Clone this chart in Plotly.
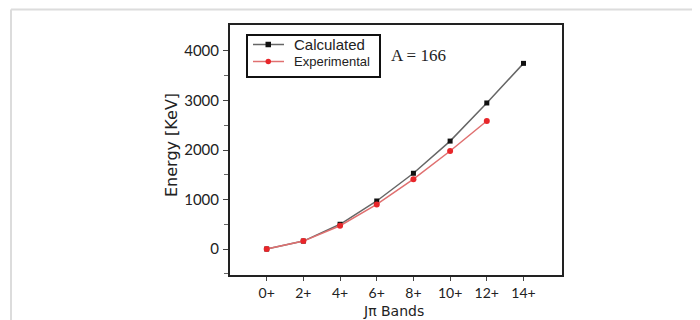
import plotly.graph_objects as go

bands = ["0+", "2+", "4+", "6+", "8+", "10+", "12+", "14+"]
calculated = [0, 160, 500, 970, 1530, 2180, 2950, 3750]
experimental = [0, 160, 470, 900, 1410, 1980, 2585]
series_names = ["Calculated", "Experimental"]
x_title = "Jπ Bands"
y_title = "Energy [KeV]"

x_calc = list(range(len(calculated)))
x_exp = list(range(len(experimental)))

CALC_LINE, CALC_MARK = "#666666", "#111111"
EXP_LINE, EXP_MARK = "#e07070", "#e8262a"

fig = go.Figure()
fig.add_trace(go.Scatter(
    x=x_calc, y=calculated, mode="lines+markers", name=series_names[0],
    line=dict(color=CALC_LINE, width=1.5),
    marker=dict(symbol="square", size=5, color=CALC_MARK),
    showlegend=False,
))
fig.add_trace(go.Scatter(
    x=x_exp, y=experimental, mode="lines+markers", name=series_names[1],
    line=dict(color=EXP_LINE, width=1.5),
    marker=dict(symbol="circle", size=6, color=EXP_MARK),
    showlegend=False,
))

# page offset (default body margin) and plot area in screen pixels
OFF = 8
W, H = 700 - OFF, 320 - OFF
L, R, T, B = 230, 562, 25, 275
def px(x):
    return (x - L) / (R - L)
def py(y):
    return (B - y) / (B - T)

font = "Lato, 'Liberation Sans', sans-serif"
title_font = "'DejaVu Sans', sans-serif"

shapes = [
    dict(type="line", xref="paper", yref="paper", x0=px(11), x1=px(702), y0=py(9.5), y1=py(9.5),
         line=dict(color="#dcdcdc", width=2)),
    dict(type="line", xref="paper", yref="paper", x0=px(11), x1=px(11), y0=py(9.5), y1=py(322),
         line=dict(color="#dcdcdc", width=2)),
    # custom legend box
    dict(type="rect", xref="paper", yref="paper", x0=px(247), x1=px(380), y0=py(77), y1=py(35),
         line=dict(color="#111", width=2), fillcolor="white"),
]
annotations = []
rows = [(44.5, CALC_LINE, CALC_MARK, "square", series_names[0], 15),
        (61.5, EXP_LINE, EXP_MARK, "circle", series_names[1], 13)]
for yy, lc, mc, sym, name, fs in rows:
    shapes.append(dict(type="line", xref="paper", yref="paper", x0=px(253), x1=px(284),
                       y0=py(yy), y1=py(yy), line=dict(color=lc, width=1.5)))
    shapes.append(dict(type=("rect" if sym == "square" else "circle"), xref="paper", yref="paper",
                       x0=px(265.5), x1=px(271), y0=py(yy + 2.75), y1=py(yy - 2.75),
                       line=dict(color=mc, width=0), fillcolor=mc))
    annotations.append(dict(text=name, xref="paper", yref="paper", x=px(292), y=py(yy),
                            xanchor="left", yanchor="middle", showarrow=False,
                            font=dict(family="'Liberation Sans', Arial, sans-serif", size=fs, color="#222")))

annotations.append(dict(
    text="A = 166", xref="paper", yref="paper",
    x=px(389), y=py(55), xanchor="left", yanchor="middle", showarrow=False,
    font=dict(family="'Liberation Serif', serif", size=17, color="#222"),
))
annotations.append(dict(
    text=x_title, xref="paper", yref="paper",
    x=px(393), y=py(311), xanchor="center", yanchor="middle", showarrow=False,
    font=dict(family=title_font, size=14, color="#222"),
))
annotations.append(dict(
    text=y_title, xref="paper", yref="paper", textangle=-90,
    x=px(171), y=py(145), xanchor="center", yanchor="middle", showarrow=False,
    font=dict(family=title_font, size=16, color="#222"),
))

fig.update_layout(
    width=W, height=H,
    margin=dict(l=L - OFF, r=W - (R - OFF), t=T - OFF, b=H - (B - OFF), pad=0),
    paper_bgcolor="white", plot_bgcolor="white",
    showlegend=False,
    xaxis=dict(
        range=[-1, 8.05],
        automargin=False,
        tickmode="array",
        tickvals=list(range(len(bands))),
        ticktext=bands,
        showgrid=False, zeroline=False,
        showline=True, linecolor="#222", linewidth=2, mirror=True,
        ticks="outside", ticklen=4, tickcolor="#444", tickwidth=1,
        ticklabelstandoff=0,
        tickfont=dict(family=font, size=14, color="#222"),
    ),
    yaxis=dict(
        range=[-525, 4525],
        automargin=False,
        tickmode="array",
        tickvals=[0, 1000, 2000, 3000, 4000],
        showgrid=False, zeroline=False,
        showline=True, linecolor="#222", linewidth=2, mirror=True,
        ticks="outside", ticklen=5, tickcolor="#444", tickwidth=1,
        ticklabelstandoff=1,
        tickfont=dict(family=font, size=15, color="#222"),
        minor=dict(tickmode="array", tickvals=[-500, 500, 1500, 2500, 3500],
                   ticks="outside", ticklen=4, tickcolor="#666"),
    ),
    annotations=annotations,
    shapes=shapes,
)

fig.write_html("out.html")
